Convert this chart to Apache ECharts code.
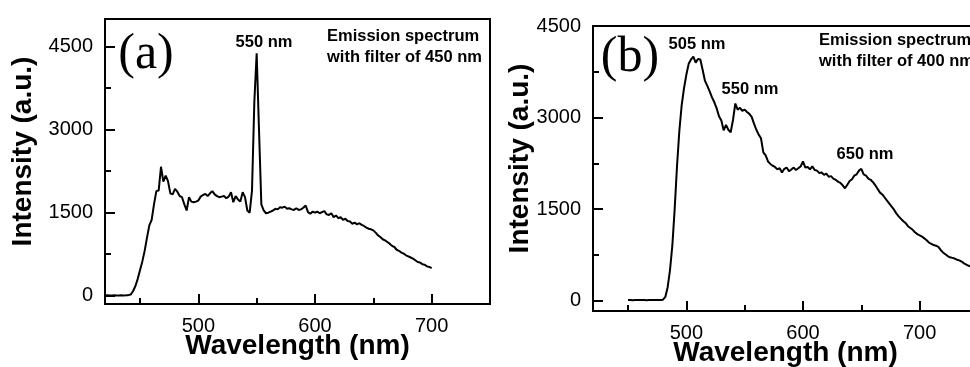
<!DOCTYPE html>
<html>
<head>
<meta charset="utf-8">
<script src="https://cdn.jsdelivr.net/npm/echarts@6/dist/echarts.min.js"></script>
<style>
html,body{margin:0;padding:0;background:#fff;}
#chart{width:970px;height:367px;}
</style>
</head>
<body>
<div id="chart"></div>
<script>
// ---- Data ----
// Panel (a): emission spectrum with filter of 450 nm, sampled every 2 nm from 420 to 700 nm
const startA = 420, stepA = 2;
const intensityA = [
  5,6,4,5,6,5,4,6,5,7,10,20,
  80,170,300,460,620,810,1050,1270,1370,
  1650,1890,1900,2330,2060,2170,2070,1850,1830,1930,
  1880,1800,1780,1650,1540,1780,1700,1690,1700,1720,
  1790,1820,1840,1800,1850,1890,1830,1800,1780,1790,
  1800,1760,1790,1870,1690,1800,1740,1700,1870,1780,
  1540,1500,1900,3500,4380,3000,1650,1540,1490,1500,
  1520,1540,1570,1560,1600,1590,1610,1570,1580,1560,
  1550,1580,1550,1560,1590,1630,1510,1480,1520,1500,
  1520,1490,1510,1530,1470,1460,1490,1420,1450,1400,
  1420,1370,1390,1350,1340,1300,1320,1290,1310,1280,
  1260,1230,1210,1200,1180,1140,1090,1060,1020,1000,
  970,940,900,880,830,810,780,760,730,710,
  690,670,640,610,600,570,560,530,520,500
];
// Panel (b): emission spectrum with filter of 400 nm, sampled every 2 nm from 450 to 750 nm
const startB = 450, stepB = 2;
const intensityB = [
  10,12,8,10,12,9,11,10,8,12,10,9,11,10,12,15,
  60,220,500,900,1500,2200,2780,3200,3480,3700,
  3880,3950,4000,3900,3960,3950,3780,3600,3520,3430,
  3330,3250,3150,3020,2950,2790,2880,2800,2760,2960,
  3230,3130,3160,3110,3130,3090,3060,3010,2900,2800,
  2720,2660,2430,2380,2280,2240,2210,2190,2150,2170,
  2100,2160,2180,2120,2150,2180,2140,2170,2200,2280,
  2180,2190,2150,2200,2140,2130,2090,2100,2060,2080,
  2030,2040,2000,1980,1950,1930,1890,1840,1900,1960,
  1990,2050,2070,2130,2160,2070,2050,2000,1980,1940,
  1890,1830,1770,1740,1690,1640,1590,1540,1490,1430,
  1380,1340,1300,1270,1220,1190,1160,1120,1090,1070,
  1050,1020,990,950,930,910,900,880,830,790,
  760,730,710,700,690,670,660,640,610,590,
  570,560,550,540,530
];
// Axis ticks
const xMajorTicks = [500, 600, 700];
const xMinorTicks = [450, 550, 650, 750];
const yMajorTicks = [0, 1500, 3000, 4500];
const yMinorTicks = [750, 2250, 3750];
const xTitle = 'Wavelength (nm)';
const yTitle = 'Intensity (a.u.)';

function toPairs(start, step, vals) {
  return vals.map((v, i) => [start + i * step, v]);
}

const SANS = '"Liberation Sans", Arial, sans-serif';
const SERIF = '"Liberation Serif", "Times New Roman", serif';
const plain = v => String(Math.round(v));

function mainX(grid) {
  return {
    type: 'value', gridIndex: grid, min: 420, max: 750, position: 'bottom',
    axisLine: { show: true, onZero: false, lineStyle: { color: '#000', width: 2 } },
    axisTick: { show: true, inside: true, length: 10, customValues: xMajorTicks, lineStyle: { color: '#000', width: 2 } },
    axisLabel: { show: true, customValues: xMajorTicks, formatter: plain, margin: 12, color: '#000', fontSize: 20, fontFamily: SANS },
    splitLine: { show: false },
    name: xTitle, nameLocation: 'middle', nameGap: 28, nameMoveOverlap: false,
    nameTextStyle: { color: '#000', fontSize: 28, fontWeight: 'bold', fontFamily: SANS }
  };
}
function minorX(grid) {
  return {
    type: 'value', gridIndex: grid, min: 420, max: 750, position: 'bottom',
    axisLine: { show: false, onZero: false },
    axisTick: { show: true, inside: true, length: 6, customValues: xMinorTicks, lineStyle: { color: '#000', width: 2 } },
    axisLabel: { show: false },
    splitLine: { show: false }
  };
}
function mainY(grid, min, max, gap) {
  return {
    type: 'value', gridIndex: grid, min: min, max: max, position: 'left',
    axisLine: { show: true, onZero: false, lineStyle: { color: '#000', width: 2 } },
    axisTick: { show: true, inside: true, length: 10, customValues: yMajorTicks, lineStyle: { color: '#000', width: 2 } },
    axisLabel: { show: true, customValues: yMajorTicks, formatter: plain, margin: 12, color: '#000', fontSize: 20, fontFamily: SANS },
    splitLine: { show: false },
    name: yTitle, nameLocation: 'middle', nameGap: gap, nameMoveOverlap: false,
    nameTextStyle: { color: '#000', fontSize: 28, fontWeight: 'bold', fontFamily: SANS, padding: [0, 0, 0, 20] }
  };
}
function minorY(grid, min, max) {
  return {
    type: 'value', gridIndex: grid, min: min, max: max, position: 'left',
    axisLine: { show: false, onZero: false },
    axisTick: { show: true, inside: true, length: 6, customValues: yMinorTicks, lineStyle: { color: '#000', width: 2 } },
    axisLabel: { show: false },
    splitLine: { show: false }
  };
}

function txt(x, y, text, font, align) {
  return {
    type: 'text', x: x, y: y, silent: true, z: 100,
    style: { text: text, font: font, fill: '#000', align: align || 'center', verticalAlign: 'middle',
             textAlign: align || 'center', textVerticalAlign: 'middle' }
  };
}

const ANN = 'bold 16.5px ' + SANS;
const chart = echarts.init(document.getElementById('chart'), null, { renderer: 'canvas' });
chart.setOption({
  animation: false,
  backgroundColor: '#fff',
  grid: [
    { left: 105, right: 480, top: 19, bottom: 63, containLabel: false, outerBoundsMode: 'none',
      show: true, borderColor: '#000', borderWidth: 2, backgroundColor: 'transparent' },
    { left: 593, right: -8, top: 26, bottom: 56, containLabel: false, outerBoundsMode: 'none',
      show: true, borderColor: '#000', borderWidth: 2, backgroundColor: 'transparent' }
  ],
  xAxis: [mainX(0), minorX(0), mainX(1), minorX(1)],
  yAxis: [mainY(0, -150, 5000, 68), minorY(0, -150, 5000), mainY(1, -170, 4500, 59), minorY(1, -170, 4500)],
  series: [
    { type: 'line', xAxisIndex: 0, yAxisIndex: 0, data: toPairs(startA, stepA, intensityA),
      showSymbol: false, symbol: 'none', lineStyle: { color: '#000', width: 2 }, silent: true },
    { type: 'line', xAxisIndex: 2, yAxisIndex: 2, data: toPairs(startB, stepB, intensityB),
      showSymbol: false, symbol: 'none', lineStyle: { color: '#000', width: 2 }, silent: true }
  ],
  graphic: [
    txt(146, 55, '(a)', '50px ' + SERIF),
    txt(264, 42, '550 nm', ANN),
    txt(327, 36, 'Emission spectrum', ANN, 'left'),
    txt(327, 57, 'with filter of 450 nm', ANN, 'left'),
    txt(630, 58, '(b)', '50px ' + SERIF),
    txt(697, 44, '505 nm', ANN),
    txt(750, 89, '550 nm', ANN),
    txt(865, 154, '650 nm', ANN),
    txt(819, 40, 'Emission spectrum', ANN, 'left'),
    txt(819, 61, 'with filter of 400 nm', ANN, 'left')
  ]
});
</script>
</body>
</html>
